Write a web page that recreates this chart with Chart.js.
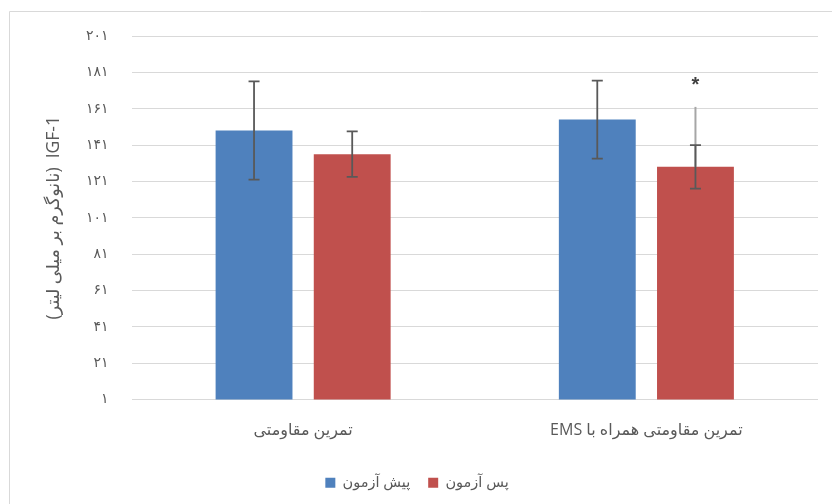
<!DOCTYPE html>
<html>
<head>
<meta charset="utf-8">
<script src="https://cdn.jsdelivr.net/npm/chart.js@4/dist/chart.umd.min.js"></script>
<style>
    html, body { margin: 0; padding: 0; background: #fff; }
    #wrap { width: 832px; height: 504px; position: relative; }
</style>
</head>
<body>
<div id="wrap"><canvas id="myChart"></canvas></div>
<script>
// data
var categories = ['تمرین مقاومتی', 'تمرین مقاومتی همراه با EMS'];
var seriesNames = ['پیش آزمون', 'پس آزمون'];
var preTest = [149, 155];
var postTest = [136, 129];
var preErr = [27, 21.5];
var postErr = [12.5, 12];
var postSigTop = [null, 162]; // light grey line on the second group
var starValue = [null, 176];  // asterisk position
var yTickLabels = ['۱', '۲۱', '۴۱', '۶۱', '۸۱', '۱۰۱', '۱۲۱', '۱۴۱', '۱۶۱', '۱۸۱', '۲۰۱'];
var yTitle = '(نانوگرم بر میلی لیتر)  IGF-1';

var textColor = '#595959';
var gridColor = '#d9d9d9';

Chart.defaults.font.family = "'Open Sans', 'DejaVu Sans', sans-serif";
Chart.defaults.color = textColor;

// frame around the chart like the office export
var frame = {
    id: 'frame',
    afterLayout: function (chart) {
        // legend sits a little left of centre in the original
        if (chart.legend) {
            chart.legend.left -= 12;
            chart.legend.right -= 12;
        }
    },
    beforeDraw: function (chart) {
        var ctx = chart.ctx;
        ctx.save();
        ctx.strokeStyle = gridColor;
        ctx.lineWidth = 1;
        ctx.beginPath();
        ctx.moveTo(9.5, chart.height);
        ctx.lineTo(9.5, 11.5);
        ctx.lineTo(chart.width, 11.5);
        ctx.stroke();
        ctx.restore();
    }
};

var errorBars = {
    id: 'errorBars',
    afterDatasetsDraw: function (chart) {
        var ctx = chart.ctx;
        var y = chart.scales.y;
        var errs = [preErr, postErr];
        ctx.save();

        // light grey line (drawn first, under the error bar)
        var postMeta = chart.getDatasetMeta(1);
        postSigTop.forEach(function (v, i) {
            if (v === null) return;
            var x = postMeta.data[i].x;
            ctx.strokeStyle = '#a6a6a6';
            ctx.lineWidth = 2;
            ctx.beginPath();
            ctx.moveTo(x, y.getPixelForValue(postTest[i]));
            ctx.lineTo(x, y.getPixelForValue(v));
            ctx.stroke();
        });

        ctx.strokeStyle = '#595959';
        ctx.lineWidth = 1.8;
        chart.data.datasets.forEach(function (ds, d) {
            var meta = chart.getDatasetMeta(d);
            ds.data.forEach(function (v, i) {
                var x = meta.data[i].x;
                var top = y.getPixelForValue(v + errs[d][i]);
                var bot = y.getPixelForValue(v - errs[d][i]);
                ctx.beginPath();
                ctx.moveTo(x, top);
                ctx.lineTo(x, bot);
                ctx.moveTo(x - 5.5, top);
                ctx.lineTo(x + 5.5, top);
                ctx.moveTo(x - 5.5, bot);
                ctx.lineTo(x + 5.5, bot);
                ctx.stroke();
            });
        });

        // asterisk
        ctx.fillStyle = '#404040';
        ctx.font = "bold 20px 'Liberation Sans', sans-serif";
        ctx.textAlign = 'center';
        ctx.textBaseline = 'middle';
        starValue.forEach(function (v, i) {
            if (v === null) return;
            ctx.fillText('*', postMeta.data[i].x, y.getPixelForValue(v) + 4);
        });
        ctx.restore();
    }
};

var ctx = document.getElementById('myChart').getContext('2d');
var myChart = new Chart(ctx, {
    type: 'bar',
    data: {
        // embedding marks so the mixed label reads right to left
        labels: categories.map(function (c) { return '\u202B' + c + '\u202C'; }),
        datasets: [{
            label: seriesNames[0],
            data: preTest,
            backgroundColor: '#4f81bd',
            categoryPercentage: 0.572,
            barPercentage: 0.783
        }, {
            label: seriesNames[1],
            data: postTest,
            backgroundColor: '#c0504d',
            categoryPercentage: 0.572,
            barPercentage: 0.783
        }]
    },
    options: {
        responsive: true,
        maintainAspectRatio: false,
        animation: false,
        layout: {
            padding: { left: 40, right: 14, top: 36, bottom: 4 }
        },
        plugins: {
            legend: {
                position: 'bottom',
                labels: {
                    boxWidth: 10,
                    boxHeight: 10,
                    padding: 18,
                    font: { size: 14.5 },
                    color: textColor
                }
            },
            tooltip: { enabled: false }
        },
        scales: {
            x: {
                grid: { display: false },
                border: { display: false },
                ticks: {
                    padding: 13,
                    font: { size: 16 },
                    color: textColor
                },
                afterFit: function (scale) { scale.height = 58; }
            },
            y: {
                min: 1,
                max: 201,
                grid: { color: gridColor, lineWidth: 1, drawTicks: false },
                border: { display: false },
                ticks: {
                    stepSize: 20,
                    padding: 23,
                    font: { size: 14 },
                    color: textColor,
                    callback: function (value) {
                        return yTickLabels[Math.round((value - 1) / 20)];
                    }
                },
                title: {
                    display: true,
                    text: yTitle,
                    font: { size: 17.5 },
                    color: textColor,
                    padding: { top: 4, bottom: 0 }
                },
                afterFit: function (scale) { scale.width = 91.5; }
            }
        }
    },
    plugins: [frame, errorBars]
});
</script>
</body>
</html>
